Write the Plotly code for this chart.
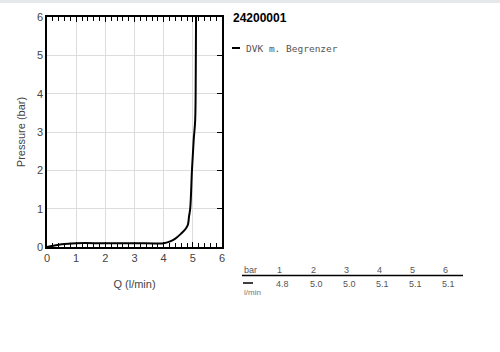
import plotly.graph_objects as go

# data
q_vals = [0.0, 0.2, 0.5, 0.8, 1.0, 2.0, 3.0, 4.0, 4.2, 4.4, 4.6, 4.75, 4.83, 4.87, 4.91, 4.97, 5.03, 5.08, 5.1, 5.11]
p_vals = [0.0, 0.03, 0.07, 0.09, 0.1, 0.1, 0.1, 0.1, 0.14, 0.22, 0.35, 0.47, 0.58, 0.8, 1.0, 2.0, 2.8, 3.3, 4.5, 6.0]
series_name = "DVK m. Begrenzer"
title_text = "24200001"
table_bar = [1, 2, 3, 4, 5, 6]
table_lmin = ["4.8", "5.0", "5.0", "5.1", "5.1", "5.1"]

W, H = 500, 352
L, R, T, B = 47, 222, 17, 247


def px(x):
    return (x - L) / (R - L)


def py(y):
    return (B - y) / (B - T)


fig = go.Figure()
fig.add_trace(go.Scatter(x=q_vals, y=p_vals, mode="lines", name=series_name,
                         line=dict(color="black", width=2), line_shape="spline",
                         showlegend=False))
# invisible trace for right-side ticks
fig.add_trace(go.Scatter(x=[0], y=[0], yaxis="y2", mode="markers",
                         marker=dict(opacity=0), showlegend=False, hoverinfo="skip"))

tickfont = dict(family="Liberation Sans, Arial, sans-serif", size=11, color="#444")
fig.update_layout(
    width=W, height=H,
    margin=dict(l=L, r=W - R, t=T, b=H - B),
    paper_bgcolor="white", plot_bgcolor="white",
    showlegend=False,
    xaxis=dict(range=[0, 6], dtick=1, showgrid=True, gridcolor="#dddddd", gridwidth=1,
               showline=True, linecolor="black", linewidth=1.5, mirror="ticks",
               ticks="inside", ticklen=5, tickcolor="black",
               minor=dict(dtick=0.2, ticks="inside", ticklen=4, tickcolor="black", showgrid=False),
               tickfont=tickfont, zeroline=False,
               title=dict(text="Q (l/min)", font=tickfont, standoff=17)),
    yaxis=dict(range=[0, 6], dtick=1, showgrid=True, gridcolor="#dddddd", gridwidth=1,
               showline=True, linecolor="black", linewidth=1.5, mirror=True,
               ticks="", tickfont=tickfont, zeroline=False,
               title=dict(text="Pressure (bar)", font=tickfont, standoff=9)),
    yaxis2=dict(range=[0, 6], dtick=1, overlaying="y", side="right", showgrid=False,
                ticks="inside", ticklen=5, tickcolor="black", showticklabels=False,
                zeroline=False, showline=False),
)

ann = []
shapes = []
# top grey band
shapes.append(dict(type="rect", xref="paper", yref="paper", x0=px(-5), x1=px(505),
                   y0=py(3), y1=py(-5), fillcolor="#e6e7ea", line=dict(width=0), layer="below"))
# title
ann.append(dict(text="<b>" + title_text + "</b>", x=px(231), y=py(18), xref="paper", yref="paper",
                xanchor="left", yanchor="middle", showarrow=False,
                font=dict(family="Liberation Sans, Arial, sans-serif", size=12, color="black")))
# legend
shapes.append(dict(type="line", xref="paper", yref="paper", x0=px(232), x1=px(240),
                   y0=py(48), y1=py(48), line=dict(color="black", width=2)))
ann.append(dict(text=series_name, x=px(244), y=py(48), xref="paper", yref="paper",
                xanchor="left", yanchor="middle", showarrow=False,
                font=dict(family="DejaVu Sans Mono, monospace", size=9.5, color="#555")))
# table
small = dict(family="Liberation Sans, Arial, sans-serif", size=9, color="#555")
ann.append(dict(text="bar", x=px(242), y=py(270), xref="paper", yref="paper",
                xanchor="left", yanchor="middle", showarrow=False, font=small))
shapes.append(dict(type="line", xref="paper", yref="paper", x0=px(242), x1=px(463),
                   y0=py(275.5), y1=py(275.5), line=dict(color="black", width=1.5)))
shapes.append(dict(type="line", xref="paper", yref="paper", x0=px(243), x1=px(253),
                   y0=py(283), y1=py(283), line=dict(color="black", width=1.5)))
ann.append(dict(text="l/min", x=px(242), y=py(292), xref="paper", yref="paper",
                xanchor="left", yanchor="middle", showarrow=False,
                font=dict(family="Liberation Sans, Arial, sans-serif", size=8, color="#777")))
col_x = [275, 308.5, 341.5, 374.5, 408, 441]
for cx, b, v in zip(col_x, table_bar, table_lmin):
    ann.append(dict(text=str(b), x=px(cx), y=py(270), xref="paper", yref="paper",
                    xanchor="left", yanchor="middle", showarrow=False, font=small))
    ann.append(dict(text=v, x=px(cx - 1), y=py(284), xref="paper", yref="paper",
                    xanchor="left", yanchor="middle", showarrow=False, font=small))

fig.update_layout(annotations=ann, shapes=shapes)
fig.write_html("out.html")
